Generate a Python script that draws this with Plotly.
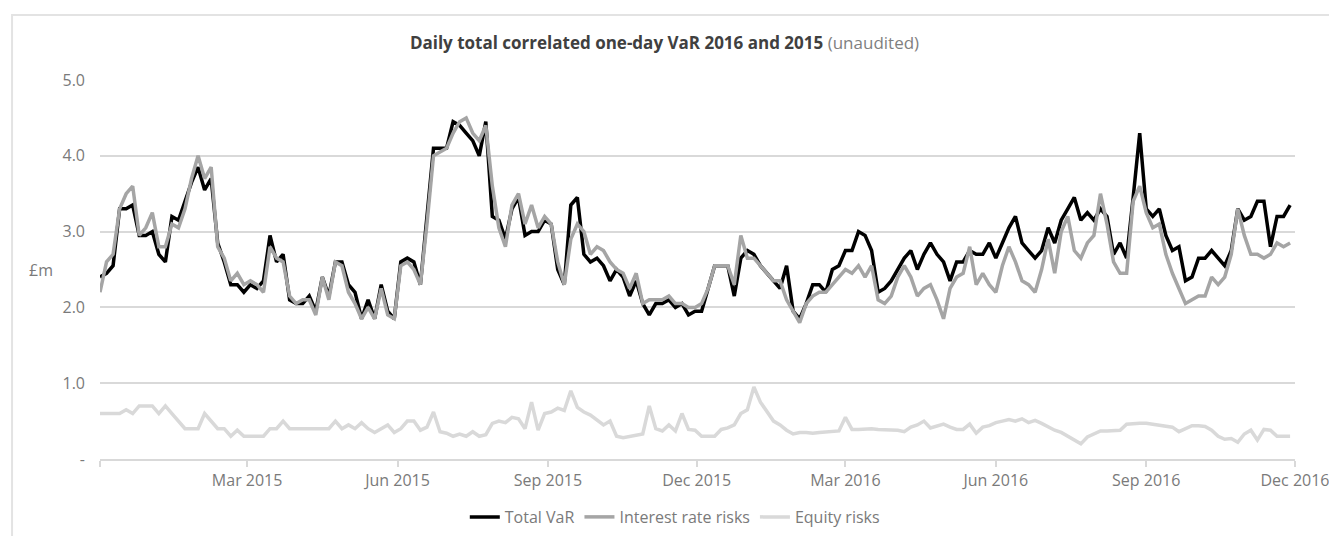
import pandas as pd
import plotly.graph_objects as go

# Sample dates (every 4 days along the axis)
dates = pd.date_range("2014-12-01", periods=183, freq="4D")

total_var = [
    2.4, 2.45, 2.55, 3.3, 3.3, 3.35, 2.95, 2.95, 3.0, 2.7, 2.6, 3.2, 3.15, 3.4, 3.65, 3.85,
    3.55, 3.7, 2.85, 2.6, 2.3, 2.3, 2.2, 2.3, 2.25, 2.35, 2.95, 2.6, 2.7, 2.1, 2.05,
    2.05, 2.15, 1.95, 2.4, 2.15, 2.6, 2.6, 2.3, 2.2, 1.85, 2.1, 1.85, 2.3, 1.95, 1.85, 2.6,
    2.65, 2.6, 2.3, 3.2, 4.1, 4.1, 4.1, 4.45, 4.4, 4.3, 4.2, 4.0, 4.45, 3.2, 3.15,
    2.9, 3.3, 3.45, 2.95, 3.0, 3.0, 3.15, 3.1, 2.5, 2.3, 3.35, 3.45, 2.7, 2.6, 2.65, 2.55,
    2.35, 2.5, 2.4, 2.15, 2.35, 2.05, 1.9, 2.05, 2.05, 2.1, 2.0, 2.05, 1.9, 1.95, 1.95,
    2.25, 2.55, 2.55, 2.55, 2.15, 2.65, 2.75, 2.7, 2.55, 2.45, 2.35, 2.25, 2.55, 1.95, 1.85, 2.05,
    2.3, 2.3, 2.2, 2.5, 2.55, 2.75, 2.75, 3.0, 2.95, 2.75, 2.2, 2.25, 2.35, 2.5, 2.65,
    2.75, 2.5, 2.7, 2.85, 2.7, 2.6, 2.35, 2.6, 2.6, 2.75, 2.7, 2.7, 2.85, 2.65, 2.85, 3.05,
    3.2, 2.85, 2.75, 2.65, 2.75, 3.05, 2.85, 3.15, 3.3, 3.45, 3.15, 3.25, 3.15, 3.3,
    3.2, 2.7, 2.85, 2.65, 3.45, 4.3, 3.3, 3.2, 3.3, 2.95, 2.75, 2.8, 2.35, 2.4, 2.65, 2.65,
    2.75, 2.65, 2.55, 2.75, 3.3, 3.15, 3.2, 3.4, 3.4, 2.8, 3.2, 3.2, 3.35,
]

interest_rate = [
    2.2, 2.6, 2.7, 3.3, 3.5, 3.6, 2.95, 3.05, 3.25, 2.8, 2.8, 3.1, 3.05, 3.3, 3.7, 4.0,
    3.7, 3.85, 2.8, 2.65, 2.35, 2.45, 2.3, 2.35, 2.3, 2.2, 2.8, 2.65, 2.6, 2.15, 2.05,
    2.1, 2.1, 1.9, 2.4, 2.1, 2.6, 2.55, 2.2, 2.05, 1.85, 2.0, 1.85, 2.25, 1.9, 1.85, 2.55,
    2.6, 2.5, 2.3, 3.1, 4.0, 4.05, 4.1, 4.3, 4.45, 4.5, 4.3, 4.2, 4.4, 3.6, 3.05,
    2.8, 3.35, 3.5, 3.1, 3.35, 3.05, 3.2, 3.1, 2.6, 2.3, 2.9, 3.1, 3.0, 2.7, 2.8, 2.75,
    2.6, 2.5, 2.45, 2.25, 2.45, 2.05, 2.1, 2.1, 2.1, 2.15, 2.05, 2.05, 2.0, 2.0, 2.05,
    2.25, 2.55, 2.55, 2.55, 2.3, 2.95, 2.65, 2.65, 2.55, 2.45, 2.35, 2.35, 2.1, 1.95, 1.8, 2.05,
    2.15, 2.2, 2.2, 2.3, 2.4, 2.5, 2.45, 2.55, 2.4, 2.55, 2.1, 2.05, 2.15, 2.4, 2.55,
    2.4, 2.15, 2.25, 2.3, 2.1, 1.85, 2.25, 2.4, 2.45, 2.8, 2.3, 2.45, 2.3, 2.2, 2.55, 2.8,
    2.6, 2.35, 2.3, 2.2, 2.5, 2.9, 2.45, 3.0, 3.2, 2.75, 2.65, 2.85, 2.95, 3.5,
    3.1, 2.6, 2.45, 2.45, 3.4, 3.6, 3.25, 3.05, 3.1, 2.7, 2.45, 2.25, 2.05, 2.1, 2.15, 2.15,
    2.4, 2.3, 2.4, 2.7, 3.3, 2.95, 2.7, 2.7, 2.65, 2.7, 2.85, 2.8, 2.85,
]

equity = [
    0.6, 0.6, 0.6, 0.6, 0.65, 0.6, 0.7, 0.7, 0.7, 0.6, 0.7, 0.6,
    0.5, 0.4, 0.4, 0.4, 0.6, 0.5, 0.4, 0.4, 0.3, 0.38, 0.3, 0.3,
    0.3, 0.3, 0.4, 0.4, 0.5, 0.4, 0.4, 0.4, 0.4, 0.4, 0.4, 0.4,
    0.5, 0.4, 0.45, 0.4, 0.48, 0.4, 0.35, 0.4, 0.45, 0.35, 0.4, 0.5,
    0.5, 0.38, 0.42, 0.62, 0.36, 0.34, 0.3, 0.33, 0.3, 0.36, 0.3, 0.32,
    0.47, 0.5, 0.48, 0.55, 0.53, 0.4, 0.75, 0.38, 0.6, 0.62, 0.67, 0.64,
    0.9, 0.68, 0.62, 0.58, 0.52, 0.45, 0.5, 0.3, 0.28, 0.3, 0.32, 0.33,
    0.7, 0.4, 0.37, 0.45, 0.37, 0.6, 0.39, 0.38,
    0.3, 0.3, 0.3, 0.39, 0.41, 0.45, 0.6, 0.65, 0.95, 0.75, 0.62, 0.5,
    0.45, 0.38, 0.33, 0.35, 0.35, 0.34, 0.35, 0.36, 0.37, 0.37, 0.55, 0.39,
    0.39, 0.4, 0.4, 0.39, 0.39, 0.39, 0.38, 0.36, 0.42, 0.45, 0.5, 0.41,
    0.44, 0.46, 0.42, 0.39, 0.39, 0.46, 0.34, 0.42, 0.44, 0.48, 0.5, 0.52,
    0.5, 0.53, 0.48, 0.51, 0.47, 0.42, 0.38, 0.35, 0.3, 0.24, 0.2, 0.29,
    0.33, 0.37, 0.37, 0.37, 0.38, 0.46, 0.47, 0.47, 0.47, 0.46, 0.45, 0.44,
    0.42, 0.36, 0.4, 0.44, 0.44, 0.43, 0.38, 0.3, 0.26, 0.27, 0.22, 0.33,
    0.38, 0.25, 0.39, 0.38, 0.3, 0.3, 0.3,
]

series_names = ["Total VaR", "Interest rate risks", "Equity risks"]
series_colors = ["#000000", "#a5a5a5", "#d9d9d9"]

x_tick_vals = ["2014-12-01", "2015-03-01", "2015-06-01", "2015-09-01", "2015-12-01",
               "2016-03-01", "2016-06-01", "2016-09-01", "2016-12-01"]
x_tick_text = ["", "Mar 2015", "Jun 2015", "Sep 2015", "Dec 2015",
               "Mar 2016", "Jun 2016", "Sep 2016", "Dec 2016"]
y_tick_vals = [0, 1, 2, 3, 4, 5]
y_tick_text = ["-", "1.0", "2.0", "3.0", "4.0", "5.0"]

FONT = "Open Sans"
TICK_COLOR = "#7a7a7a"
GRID = "#d9d9d9"
FS = 16

fig = go.Figure()
for name, vals, col in zip(series_names, [total_var, interest_rate, equity], series_colors):
    fig.add_trace(go.Scatter(x=dates, y=vals, mode="lines", name=name,
                             line=dict(color=col, width=3.5)))

fig.update_layout(
    width=1329, height=536,
    margin=dict(l=100, r=34, t=80, b=77, autoexpand=False),
    paper_bgcolor="white", plot_bgcolor="white",
    font=dict(family=FONT, size=FS, color=TICK_COLOR),
    title=dict(
        text="<b>Daily total correlated one-day VaR 2016 and 2015</b>"
             "<span style='color:#7f7f7f'> (unaudited)</span>",
        x=0.5, xref="container", xanchor="center",
        y=1 - 43 / 536, yref="container", yanchor="middle",
        font=dict(family=FONT, size=17, color="#404040"),
    ),
    showlegend=True,
    legend=dict(orientation="h", x=0.481, xanchor="center", y=-0.153, yanchor="middle",
                font=dict(family=FONT, size=FS, color=TICK_COLOR),
                itemwidth=30, tracegroupgap=0, bgcolor="rgba(0,0,0,0)"),
    xaxis=dict(
        type="date", range=["2014-12-01", "2016-12-01"],
        tickmode="array", tickvals=x_tick_vals, ticktext=x_tick_text,
        showgrid=False, showline=True, linecolor=GRID, linewidth=2,
        ticks="outside", ticklen=6, tickcolor=GRID, tickwidth=1.5,
        zeroline=False, tickfont=dict(size=FS, color=TICK_COLOR),
        ticklabeloverflow="allow",
    ),
    yaxis=dict(
        range=[0, 5], tickmode="array", tickvals=y_tick_vals, ticktext=y_tick_text,
        showgrid=True, gridcolor=GRID, gridwidth=2, zeroline=False, showline=False,
        ticks="", ticklabelstandoff=14, tickfont=dict(size=FS, color=TICK_COLOR),
    ),
    annotations=[dict(text="£m", x=-0.049, y=0.5, xref="paper", yref="paper",
                      showarrow=False, xanchor="center", yanchor="middle",
                      font=dict(family=FONT, size=FS, color=TICK_COLOR))],
    shapes=[dict(type="rect", xref="paper", yref="paper",
                 x0=-0.0736, x1=1.04, y0=-0.25, y1=1.1715,
                 line=dict(color="#e3e3e3", width=2), fillcolor="rgba(0,0,0,0)",
                 layer="below")],
)

# remove the default page margin so the figure sits at the top-left corner
fig.write_html("out.html", config={"displayModeBar": False},
               post_script="document.body.style.margin='0';")
